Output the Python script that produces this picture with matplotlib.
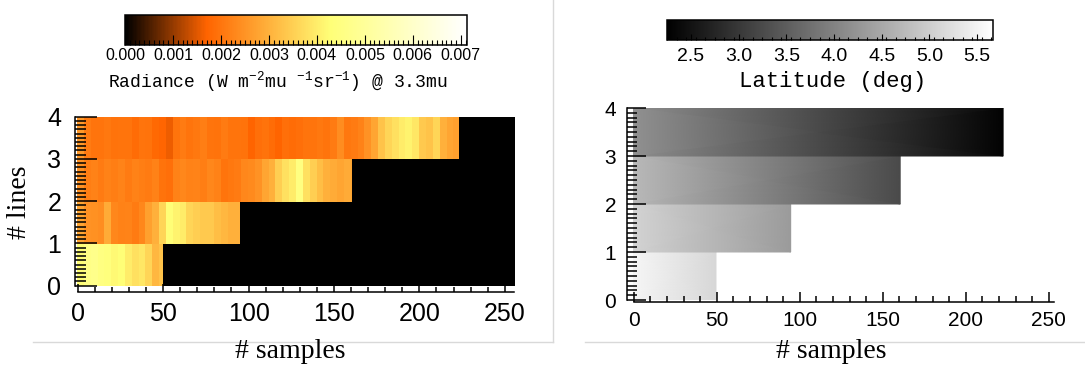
import numpy as np
import matplotlib
matplotlib.use('Agg')
from matplotlib import pyplot as plt
from matplotlib.colors import LinearSegmentedColormap
from matplotlib.lines import Line2D

plt.rcParams['mathtext.fontset'] = 'custom'
plt.rcParams['mathtext.rm'] = 'Liberation Mono'
plt.rcParams['mathtext.it'] = 'Liberation Mono'
plt.rcParams['mathtext.default'] = 'regular'

# image geometry
n_samples = 256
n_lines = 4
row_len = [50, 95, 161, 223]          # valid samples per line
bin_width = 4                         # samples per value in the radiance lists

# radiance (1e-3 W m-2 mu-1 sr-1), one value per 4 samples, line 0 -> 3
rad_line0 = [4.3, 4.6, 4.7, 4.5, 4.4, 4.2, 4.3, 4.0, 3.8, 3.9, 3.6, 3.1, 3.3]
rad_line1 = [2.8, 2.5, 2.45, 2.4, 2.9, 2.3, 2.2, 2.25, 2.1, 2.3, 2.7, 3.0,
             3.6, 4.3, 4.1, 4.0, 3.6, 3.5, 3.4, 3.4, 3.2, 3.1, 3.0, 3.0]
rad_line2 = [2.5, 2.15, 2.2, 2.1, 2.2, 2.15, 2.25, 2.1, 2.2, 2.15, 2.1, 2.2,
             1.95, 1.9, 2.2, 2.3, 2.2, 2.25, 2.15, 2.3, 2.2, 2.0, 2.05, 2.1,
             2.3, 2.35, 2.5, 2.8, 3.0, 3.5, 3.8, 4.0, 4.5, 3.8, 3.5, 3.2,
             3.0, 2.9, 2.8, 2.9, 2.8]
rad_line3 = [2.6, 2.1, 2.0, 2.0, 2.05, 1.95, 2.0, 2.0, 1.85, 2.0, 1.95, 1.8,
             1.75, 1.6, 2.0, 2.1, 2.0, 2.05, 2.15, 2.0, 1.95, 2.1, 2.0, 2.0,
             1.95, 1.7, 1.9, 1.95, 1.85, 1.7, 1.9, 1.85, 1.9, 2.0, 2.0, 2.05,
             2.0, 2.1, 2.4, 2.05, 2.1, 2.2, 2.5, 2.8, 3.3, 3.6, 3.8, 4.0,
             4.1, 3.9, 3.4, 3.3, 3.6, 3.0, 2.8, 2.7]
rad_rows = [rad_line0, rad_line1, rad_line2, rad_line3]
rad_range = (0.0, 0.00712)
rad_ticks = [0.000, 0.001, 0.002, 0.003, 0.004, 0.005, 0.006, 0.007]

# latitude (deg) at first and last valid sample of each line
lat_start = [5.54, 5.07, 4.73, 4.19]
lat_end = [5.13, 4.33, 3.25, 2.29]
lat_range = (2.248, 5.671)
lat_ticks = [2.5, 3.0, 3.5, 4.0, 4.5, 5.0, 5.5]

W, H = 1085, 374
sans = 'Liberation Sans'
mono = 'Liberation Mono'
serif = 'Liberation Serif'


def fig_box(left, top, right, bottom):
    # pixel box -> figure fraction
    return [left / W, 1 - bottom / H, (right - left) / W, (bottom - top) / H]


def style_axes(ax, xpad, ypad, size, ylen, xlen, yout, xout, xmax):
    ax.spines[['top', 'right']].set_visible(False)
    ax.spines['bottom'].set_position(('outward', xout))
    ax.spines['left'].set_position(('outward', yout))
    ax.spines['bottom'].set_bounds(0, xmax)
    for s in ('bottom', 'left'):
        ax.spines[s].set_linewidth(1.1)
    ax.set_xticks(range(0, 251, 50))
    ax.set_xticks(range(0, 256, 10), minor=True)
    ax.set_yticks(range(n_lines + 1))
    ax.set_yticks(np.arange(0, n_lines + 0.01, 0.1), minor=True)
    ax.tick_params(axis='x', which='major', direction='in', length=xlen,
                   width=1.1, pad=xpad, labelsize=size)
    ax.tick_params(axis='x', which='minor', direction='in', length=xlen * 0.6,
                   width=1.1)
    ax.tick_params(axis='y', which='major', direction='in', length=ylen,
                   width=1.1, pad=ypad, labelsize=size)
    ax.tick_params(axis='y', which='minor', direction='in', length=ylen * 0.5,
                   width=1.1)
    for lab in ax.get_xticklabels() + ax.get_yticklabels():
        lab.set_family(sans)


def style_cbar(cb, ticks, fmt, size, pad, major, minor_step):
    cb.set_ticks(ticks)
    cb.ax.set_xticks(np.arange(cb.vmin, cb.vmax, minor_step), minor=True)
    cb.ax.xaxis.set_major_formatter(matplotlib.ticker.FormatStrFormatter(fmt))
    cb.ax.tick_params(which='major', direction='in', length=major, width=0.8,
                      pad=pad, labelsize=size, bottom=True, top=False)
    cb.ax.tick_params(which='minor', direction='in', length=major * 0.5,
                      width=0.8, bottom=True, top=False)
    cb.outline.set_linewidth(1.1)
    for lab in cb.ax.get_xticklabels():
        lab.set_family(sans)


fig = plt.figure(figsize=(W / 100, H / 100), dpi=100)

# ---- left: radiance
rad = np.full((n_lines, n_samples), np.nan)
for i, vals in enumerate(rad_rows):
    rad[i, :row_len[i]] = np.repeat(np.array(vals) * 1e-3,
                                    bin_width)[:row_len[i]]

cmap_rad = LinearSegmentedColormap.from_list(
    'rad', [(0.0, (0, 0, 0)), (0.239, (1, 100 / 255, 0)),
            (0.604, (1, 1, 120 / 255)), (1.0, (1, 1, 1))])
cmap_rad.set_bad('black')

ax1 = fig.add_axes(fig_box(76.9, 116.7, 514.2, 285.7))
im1 = ax1.imshow(rad, cmap=cmap_rad, vmin=rad_range[0], vmax=rad_range[1],
                 aspect='auto', origin='lower', interpolation='nearest',
                 extent=(-0.5, n_samples - 0.5, 0, n_lines))
ax1.set_xlim(-0.5, n_samples - 0.5)
ax1.set_ylim(0, n_lines)
style_axes(ax1, xpad=7, ypad=10, size=18, ylen=16, xlen=6, yout=1.3,
           xout=4.5, xmax=n_samples - 0.5)

cax1 = fig.add_axes(fig_box(125, 15, 466.6, 45))
cb1 = fig.colorbar(im1, cax=cax1, orientation='horizontal')
style_cbar(cb1, rad_ticks, '%.3f', 11.5, 2, 7, 0.0001)

fig.text(278 / W, 1 - 82 / H,
         'Radiance (W m$^{-2}$mu $^{-1}$sr$^{-1}$) @ 3.3mu',
         ha='center', va='center', family=mono, size=13)
fig.text(290.5 / W, 1 - 352 / H, '# samples', ha='center', va='center',
         family=serif, size=20)
fig.text(19 / W, 1 - 202 / H, '# lines', ha='center', va='center',
         rotation=90, family=serif, size=20)

# ---- right: latitude
ax2 = fig.add_axes(fig_box(633.0, 108, 1057.9, 300))
for i in range(n_lines):
    xs = [-0.5, row_len[i] - 0.5]
    X, Y = np.meshgrid(xs, [i, i + 1])
    C = np.array([[lat_start[i], lat_end[i]], [lat_start[i], lat_end[i]]])
    pm = ax2.pcolormesh(X, Y, C, cmap='gray', vmin=lat_range[0],
                        vmax=lat_range[1], shading='gouraud')
ax2.set_xlim(-0.5, n_samples - 0.5)
ax2.set_ylim(0, n_lines)
style_axes(ax2, xpad=6, ypad=8, size=15, ylen=14, xlen=7, yout=4,
           xout=1.7, xmax=253)

cax2 = fig.add_axes(fig_box(667, 20, 993.3, 40))
cb2 = fig.colorbar(pm, cax=cax2, orientation='horizontal')
style_cbar(cb2, lat_ticks, '%.1f', 14, 6, 4.5, 0.1)

fig.text(832.5 / W, 1 - 82 / H, 'Latitude (deg)', ha='center', va='center',
         family=mono, size=16)
fig.text(831 / W, 1 - 352 / H, '# samples', ha='center', va='center',
         family=serif, size=20)

# page frame lines around the two panels
frame = '#d9d9d9'
fig.add_artist(Line2D([33 / W, 552.5 / W], [1 - 341.5 / H] * 2,
                      color=frame, lw=1))
fig.add_artist(Line2D([552.5 / W] * 2, [1, 1 - 341.5 / H],
                      color=frame, lw=1))
fig.add_artist(Line2D([585 / W, 1], [1 - 341.5 / H] * 2,
                      color=frame, lw=1))

fig.savefig('out.png', dpi=100)
